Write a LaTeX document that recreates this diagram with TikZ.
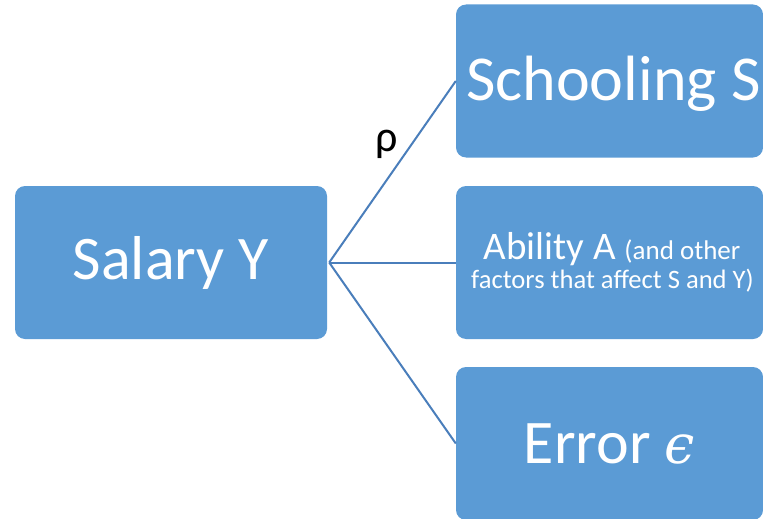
\documentclass[tikz,border=0pt]{standalone}
\usepackage{fontspec}
\setmainfont{Carlito}
\newfontfamily\epsfont{DejaVu Serif}
\definecolor{boxblue}{HTML}{5B9BD5}
\definecolor{linkblue}{HTML}{4A7EBB}
\tikzset{
  block/.style={fill=boxblue, draw=none, rounded corners=10pt, text=white,
    minimum width=#1, minimum height=153pt, inner sep=0pt, align=center},
  link/.style={draw=linkblue, line width=2pt},
  bigtxt/.style={font=\fontsize{62}{70}\selectfont}
}
\begin{document}
\begin{tikzpicture}[x=1pt, y=-1pt]
  \useasboundingbox (0,0) rectangle (763,519);
  \clip (0,0) rectangle (763,519);
  \node[block=312pt, bigtxt] (salary) at (171,262.5) {Salary Y};
  \node[block=307pt, font=\fontsize{64}{70}\selectfont, text depth=6pt] (school) at (609.5,81) {\hspace*{8pt}Schooling S};
  \node[block=307pt, font=\fontsize{39}{29}\selectfont] (ability) at (609.5,262.5)
    {\hspace*{5pt}Ability A {\fontsize{27}{29}\selectfont (and other}\\
     {\fontsize{26.6}{29}\selectfont\hspace*{6pt}factors that affect S and Y)}};
  \node[block=307pt, bigtxt] (error) at (609.5,443.5) {Error {\epsfont\itshape\fontsize{54}{60}\selectfont ϵ}};
  \draw[link] ([xshift=2pt]salary.east) -- (school.west);
  \draw[link] ([xshift=2pt]salary.east) -- (ability.west);
  \draw[link] ([xshift=2pt]salary.east) -- (error.west);
  \node[font=\fontsize{44}{48}\selectfont, anchor=base, inner sep=0pt] (rho) at (387,151) {ρ};
\end{tikzpicture}
\end{document}
